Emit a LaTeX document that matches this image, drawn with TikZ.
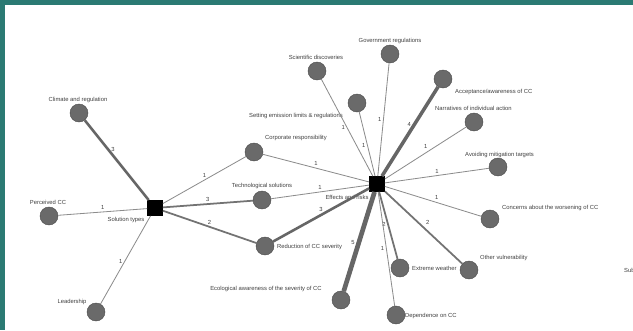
\documentclass[tikz,border=0pt]{standalone}
\usepackage{fontspec}
\setmainfont{Liberation Sans}
\definecolor{framecol}{HTML}{2B7A73}
\definecolor{dotcol}{HTML}{6A6A6A}

\begin{document}
\begin{tikzpicture}[x=0.03cm, y=-0.03cm,
  topic/.style={circle, draw=black!70, fill=dotcol, minimum size=0.54cm, inner sep=0pt},
  hub/.style={rectangle, fill=black, minimum size=0.46cm, inner sep=0pt},
  txt/.style={font=\fontsize{5}{6}\selectfont, text=black!75, inner sep=0pt},
  wl/.style={font=\fontsize{5}{6}\selectfont, text=black!75, inner sep=1.5pt},
  w1/.style={draw=black!45, line width=0.7pt},
  w2/.style={draw=black!55, line width=1.5pt},
  w3/.style={draw=black!60, line width=2.2pt},
  w4/.style={draw=black!60, line width=3pt},
  w5/.style={draw=black!60, line width=4pt}]
                % frame
                \useasboundingbox (0,0) rectangle (633,330);
                \fill[framecol] (0,0) rectangle (633,330);
                \fill[white] (5,5) rectangle (633,330);

                % hubs
                \node[hub] (sol) at (155,208) {};
                \node[hub] (eff) at (377,184) {};
                \node[txt] (solt) at (126,220) {Solution types};
                \node[txt] (efft) at (347,197) {Effects and risks};

                % topics
                \node[topic] (clim) at (79,113) {};
                \node[topic] (perc) at (49,216) {};
                \node[topic] (lead) at (96,312) {};
                \node[topic] (corp) at (254,152) {};
                \node[topic] (tech) at (262,200) {};
                \node[topic] (redu) at (265,246) {};
                \node[topic] (sci) at (317,71) {};
                \node[topic] (sett) at (357,103) {};
                \node[topic] (gov) at (390,54) {};
                \node[topic] (acc) at (443,79) {};
                \node[topic] (narr) at (474,122) {};
                \node[topic] (avoid) at (498,167) {};
                \node[topic] (conc) at (490,219) {};
                \node[topic] (oth) at (469,270) {};
                \node[topic] (ext) at (400,268) {};
                \node[topic] (dep) at (396,315) {};
                \node[topic] (eco) at (341,300) {};

                % topic labels
                \node[txt] (climt) at (78,100) {Climate and regulation};
                \node[txt] (perct) at (48,202) {Perceived CC};
                \node[txt] (leadt) at (72,302) {Leadership};
                \node[txt] (corpt) at (296,138) {Corporate responsibility};
                \node[txt] (techt) at (262,186) {Technological solutions};
                \node[txt, anchor=west] (redut) at (277,247) {Reduction of CC severity};
                \node[txt] (scit) at (316,57) {Scientific discoveries};
                \node[txt] (settt) at (296,116) {Setting emission limits \& regulations};
                \node[txt] (govt) at (390,41) {Government regulations};
                \node[txt, anchor=west] (acct) at (455,92) {Acceptance/awareness of CC};
                \node[txt, anchor=west] (narrt) at (435,108) {Narratives of individual action};
                \node[txt, anchor=west] (avoidt) at (465,155) {Avoiding mitigation targets};
                \node[txt, anchor=west] (conct) at (502,208) {Concerns about the worsening of CC};
                \node[txt, anchor=west] (otht) at (480,258) {Other vulnerability};
                \node[txt, anchor=west] (extt) at (412,268) {Extreme weather};
                \node[txt, anchor=west] (dept) at (405,316) {Dependence on CC};
                \node[txt] (ecot) at (266,289) {Ecological awareness of the severity of CC};
                \node[txt, anchor=west] (sut) at (624,270) {Sub};

                % links of the left hub
                \draw[w3] (sol) -- node[wl, pos=0.63, right] {3} (clim);
                \draw[w1] (sol) -- node[wl, pos=0.5, above] {1} (perc);
                \draw[w1] (sol) -- node[wl, pos=0.52, left] {1} (lead);
                \draw[w1] (sol) -- node[wl, pos=0.5, above] {1} (corp);
                \draw[w2] (sol) -- node[wl, pos=0.5, above] {3} (tech);
                \draw[w2] (sol) -- node[wl, pos=0.5, above] {2} (redu);

                % links of the right hub
                \draw[w1] (eff) -- node[wl, pos=0.5, above] {1} (corp);
                \draw[w1] (eff) -- node[wl, pos=0.5, above] {1} (tech);
                \draw[w3] (eff) -- node[wl, pos=0.5, above] {3} (redu);
                \draw[w1] (eff) -- node[wl, pos=0.5, left] {1} (sci);
                \draw[w1] (eff) -- node[wl, pos=0.48, left] {1} (sett);
                \draw[w1] (eff) -- node[wl, pos=0.5, left] {1} (gov);
                \draw[w4] (eff) -- node[wl, pos=0.58, left] {4} (acc);
                \draw[w1] (eff) -- node[wl, pos=0.55, above left] {1} (narr);
                \draw[w1] (eff) -- node[wl, pos=0.5, above] {1} (avoid);
                \draw[w1] (eff) -- node[wl, pos=0.5, above right] {1} (conc);
                \draw[w2] (eff) -- node[wl, pos=0.5, above right] {2} (oth);
                \draw[w2] (eff) -- node[wl, pos=0.49, left] {2} (ext);
                \draw[w1] (eff) -- node[wl, pos=0.5, left] {1} (dep);
                \draw[w5] (eff) -- node[wl, pos=0.51, left] {5} (eco);
                \end{tikzpicture}
\end{document}
